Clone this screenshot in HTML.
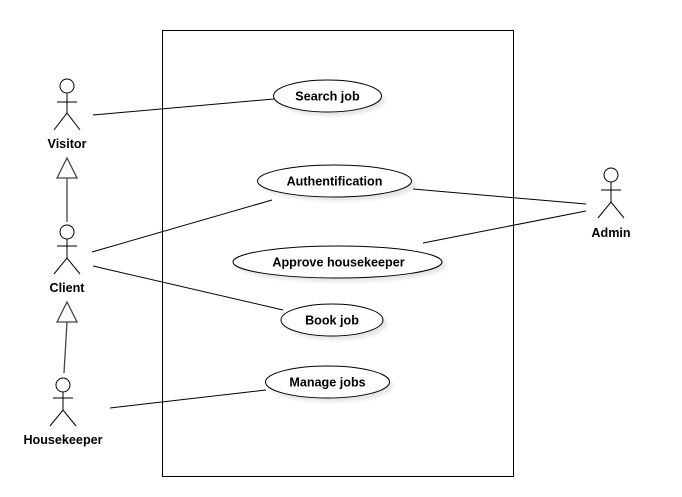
<!DOCTYPE html>
<html><head><meta charset="utf-8"><style>
html,body{margin:0;padding:0;background:#fff;}
svg{display:block;}
text{font-family:"Liberation Sans",Arial,sans-serif;font-size:12.6px;font-weight:bold;fill:#000;text-anchor:middle;}
</style></head><body>
<svg width="682" height="497" viewBox="0 0 682 497" xmlns="http://www.w3.org/2000/svg">
<defs><filter id="sh" x="-20%" y="-20%" width="150%" height="160%"><feGaussianBlur stdDeviation="1.5"/></filter></defs>
<rect x="162.5" y="30.5" width="351" height="446" fill="#fff" stroke="#000" stroke-width="1"/>
<g fill="#e6e6e6" filter="url(#sh)">
<ellipse cx="331" cy="100" rx="54" ry="16"/>
<ellipse cx="339" cy="185" rx="77" ry="16"/>
<ellipse cx="341" cy="266" rx="105" ry="16"/>
<ellipse cx="336" cy="324" rx="51" ry="16"/>
<ellipse cx="331" cy="386" rx="62" ry="16"/>
</g>
<g fill="#fff" stroke="#000" stroke-width="1">
<ellipse cx="327.5" cy="96" rx="54" ry="16"/>
<ellipse cx="334.5" cy="181" rx="77" ry="16"/>
<ellipse cx="337.5" cy="262" rx="104.5" ry="16"/>
<ellipse cx="332" cy="320" rx="51" ry="16"/>
<ellipse cx="327.5" cy="382" rx="62" ry="16"/>
</g>
<text x="327.5" y="100.5">Search job</text>
<text x="334.5" y="185.5">Authentification</text>
<text x="338.5" y="266.5">Approve housekeeper</text>
<text x="332" y="324.5">Book job</text>
<text x="327.5" y="386.5">Manage jobs</text>
<g stroke="#000" stroke-width="1" fill="none">
<line x1="93" y1="115" x2="274" y2="99"/>
<line x1="92" y1="252" x2="272" y2="200"/>
<line x1="93" y1="266" x2="283" y2="310"/>
<line x1="110" y1="408" x2="266" y2="390"/>
<line x1="413" y1="189" x2="586" y2="204"/>
<line x1="423" y1="243" x2="586" y2="211"/>
</g>
<g stroke="#444" stroke-width="1.3" fill="#fff">
<line x1="67" y1="178" x2="67" y2="222"/>
<polygon points="67,158 57,178 77,178"/>
<line x1="67" y1="322" x2="64" y2="373"/>
<polygon points="67,302 57,322 77,322"/>
</g>
<g stroke="#000" stroke-width="1" fill="#fff">
<circle cx="67" cy="86" r="7"/>
<line x1="67" y1="93" x2="67" y2="113"/><line x1="57" y1="102" x2="77" y2="102"/>
<polyline points="54,130 67,113 80,130" fill="none"/>
<circle cx="67" cy="232" r="7"/>
<line x1="67" y1="239" x2="67" y2="258"/><line x1="57" y1="246" x2="77" y2="246"/>
<polyline points="54,274 67,258 80,274" fill="none"/>
<circle cx="63" cy="385" r="7"/>
<line x1="63" y1="392" x2="63" y2="410"/><line x1="53" y1="398" x2="73" y2="398"/>
<polyline points="50,426 63,410 76,426" fill="none"/>
<circle cx="611" cy="175" r="7"/>
<line x1="611" y1="182" x2="611" y2="202"/><line x1="601" y1="190" x2="621" y2="190"/>
<polyline points="598,218 611,202 624,218" fill="none"/>
</g>
<text x="67" y="148">Visitor</text>
<text x="67" y="292">Client</text>
<text x="63" y="444">Housekeeper</text>
<text x="611" y="237">Admin</text>
</svg>
</body></html>
